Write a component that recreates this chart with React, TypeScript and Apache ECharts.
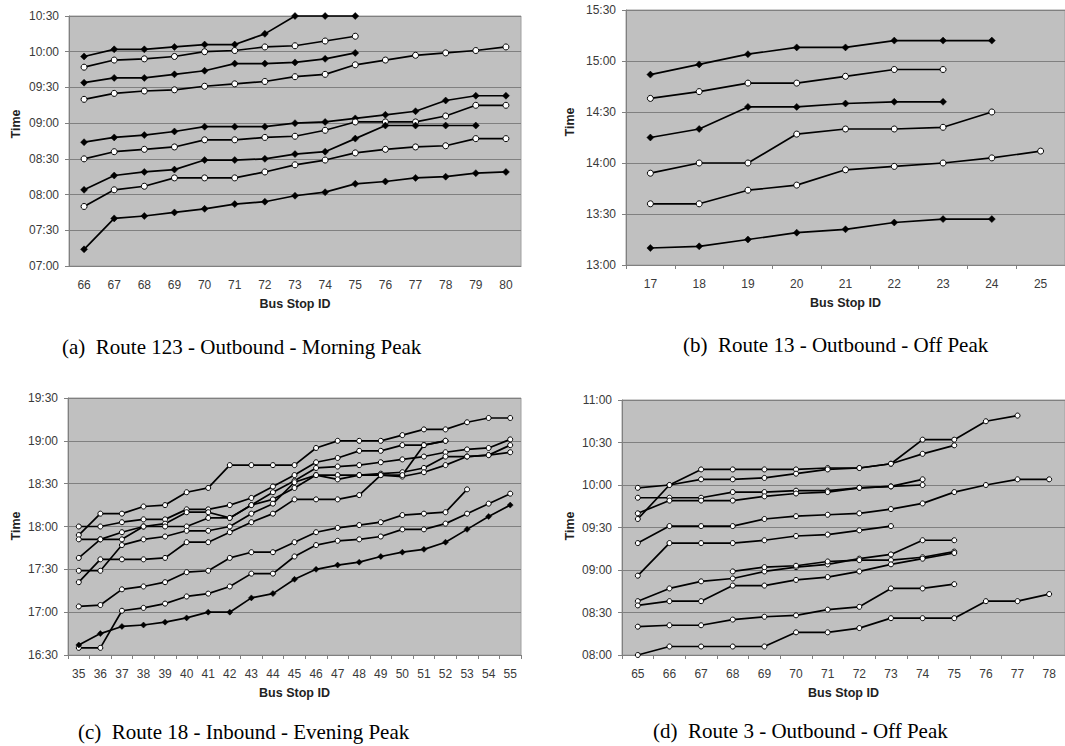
import React, { useEffect, useRef } from "react";
import * as echarts from "echarts";

// ---------- Panel (a): Route 123 - Outbound - Morning Peak ----------
const catsA = ["66", "67", "68", "69", "70", "71", "72", "73", "74", "75", "76", "77", "78", "79", "80"];
const a1 = ["09:56", "10:02", "10:02", "10:04", "10:06", "10:06", "10:15", "10:30", "10:30", "10:30"];
const a2 = ["09:47", "09:53", "09:54", "09:56", "10:00", "10:01", "10:04", "10:05", "10:09", "10:13"];
const a3 = ["09:34", "09:38", "09:38", "09:41", "09:44", "09:50", "09:50", "09:51", "09:54", "09:59"];
const a4 = ["09:20", "09:25", "09:27", "09:28", "09:31", "09:33", "09:35", "09:39", "09:41", "09:49", "09:53", "09:57", "09:59", "10:01", "10:04"];
const a5 = ["08:44", "08:48", "08:50", "08:53", "08:57", "08:57", "08:57", "09:00", "09:01", "09:04", "09:07", "09:10", "09:19", "09:23", "09:23"];
const a6 = ["08:30", "08:36", "08:38", "08:40", "08:46", "08:46", "08:48", "08:49", "08:54", "09:01", "09:01", "09:01", "09:06", "09:15", "09:15"];
const a7 = ["08:04", "08:16", "08:19", "08:21", "08:29", "08:29", "08:30", "08:34", "08:36", "08:47", "08:58", "08:58", "08:58", "08:58"];
const a8 = ["07:50", "08:04", "08:07", "08:14", "08:14", "08:14", "08:19", "08:25", "08:29", "08:35", "08:38", "08:40", "08:41", "08:47", "08:47"];
const a9 = ["07:14", "07:40", "07:42", "07:45", "07:48", "07:52", "07:54", "07:59", "08:02", "08:09", "08:11", "08:14", "08:15", "08:18", "08:19"];

// ---------- Panel (b): Route 13 - Outbound - Off Peak ----------
const catsB = ["17", "18", "19", "20", "21", "22", "23", "24", "25"];
const b1 = ["14:52", "14:58", "15:04", "15:08", "15:08", "15:12", "15:12", "15:12"];
const b2 = ["14:38", "14:42", "14:47", "14:47", "14:51", "14:55", "14:55"];
const b3 = ["14:15", "14:20", "14:33", "14:33", "14:35", "14:36", "14:36"];
const b4 = ["13:54", "14:00", "14:00", "14:17", "14:20", "14:20", "14:21", "14:30"];
const b5 = ["13:36", "13:36", "13:44", "13:47", "13:56", "13:58", "14:00", "14:03", "14:07"];
const b6 = ["13:10", "13:11", "13:15", "13:19", "13:21", "13:25", "13:27", "13:27"];

// ---------- Panel (c): Route 18 - Inbound - Evening Peak ----------
const catsC = ["35", "36", "37", "38", "39", "40", "41", "42", "43", "44", "45", "46", "47", "48", "49", "50", "51", "52", "53", "54", "55"];
const c1 = ["17:54", "18:09", "18:09", "18:14", "18:15", "18:24", "18:27", "18:43", "18:43", "18:43", "18:43", "18:55", "19:00", "19:00", "19:00", "19:04", "19:08", "19:08", "19:13", "19:16", "19:16"];
const c2 = ["18:00", "18:00", "18:03", "18:05", "18:05", "18:12", "18:12", "18:15", "18:20", "18:28", "18:36", "18:45", "18:48", "18:53", "18:53", "18:57", "18:57", "19:00"];
const c3 = ["17:51", "17:51", "17:51", "18:00", "18:02", "18:10", "18:10", "18:06", "18:15", "18:24", "18:32", "18:41", "18:42", "18:43", "18:45", "18:47", "18:49", "18:52", "18:54", "18:55", "19:01"];
const c4 = ["17:38", "17:51", "17:56", "18:00", "18:00", "18:00", "18:06", "18:06", "18:15", "18:19", "18:27", "18:36", "18:36", "18:36", "18:37", "18:38", "18:41", "18:49", "18:49", "18:50", "18:57"];
const c5 = ["17:29", "17:29", "17:47", "17:51", "17:53", "17:57", "17:57", "18:00", "18:09", "18:16", "18:31", "18:36", "18:33", "18:36", "18:36", "18:35", "18:38", "18:43", "18:49", "18:50", "18:52"];
const c6 = ["17:21", "17:37", "17:37", "17:37", "17:38", "17:49", "17:49", "17:56", "18:03", "18:09", "18:19", "18:19", "18:19", "18:22", "18:36", "18:36", "18:57", "19:00"];
const c7 = ["17:04", "17:05", "17:16", "17:18", "17:21", "17:28", "17:29", "17:38", "17:42", "17:42", "17:49", "17:56", "17:59", "18:01", "18:03", "18:08", "18:09", "18:10", "18:26"];
const c8 = ["16:35", "16:35", "17:01", "17:03", "17:06", "17:11", "17:13", "17:18", "17:27", "17:27", "17:39", "17:47", "17:50", "17:51", "17:53", "17:58", "17:58", "18:02", "18:09", "18:16", "18:23"];
const c9 = ["16:37", "16:45", "16:50", "16:51", "16:53", "16:56", "17:00", "17:00", "17:10", "17:13", "17:23", "17:30", "17:33", "17:35", "17:39", "17:42", "17:44", "17:49", "17:58", "18:07", "18:15"];

// ---------- Panel (d): Route 3 - Outbound - Off Peak ----------
const catsD = ["65", "66", "67", "68", "69", "70", "71", "72", "73", "74", "75", "76", "77", "78"];
const d1 = ["09:36", "10:00", "10:11", "10:11", "10:11", "10:11", "10:12", "10:12", "10:15", "10:32", "10:32", "10:45", "10:49"];
const d2 = ["09:58", "10:00", "10:04", "10:04", "10:05", "10:08", "10:11", "10:12", "10:15", "10:22", "10:28"];
const d3 = ["09:51", "09:51", "09:51", "09:55", "09:55", "09:56", "09:56", "09:58", "09:59", "10:04"];
const d4 = ["09:40", "09:49", "09:49", "09:49", "09:52", "09:54", "09:55", "09:58", "09:59", "10:00"];
const d5 = ["09:19", "09:31", "09:31", "09:31", "09:36", "09:38", "09:39", "09:40", "09:43", "09:47", "09:55", "10:00", "10:04", "10:04"];
const d6 = ["08:56", "09:19", "09:19", "09:19", "09:21", "09:24", "09:25", "09:28", "09:31"];
const d7 = ["08:38", "08:47", "08:52", "08:54", "08:59", "09:02", "09:04", "09:08", "09:11", "09:21", "09:21"];
const d8 = [null, null, null, "08:59", "09:02", "09:03", "09:06", "09:07", "09:07", "09:09", "09:13"];
const d9 = ["08:35", "08:38", "08:38", "08:49", "08:49", "08:53", "08:55", "08:59", "09:04", "09:08", "09:12"];
const d10 = ["08:20", "08:21", "08:21", "08:25", "08:27", "08:28", "08:32", "08:34", "08:47", "08:47", "08:50"];
const d11 = ["08:00", "08:06", "08:06", "08:06", "08:06", "08:16", "08:16", "08:19", "08:26", "08:26", "08:26", "08:38", "08:38", "08:43"];

const captions = [
  "(a)  Route 123 - Outbound - Morning Peak",
  "(b)  Route 13 - Outbound - Off Peak",
  "(c)  Route 18 - Inbound - Evening Peak",
  "(d)  Route 3 - Outbound - Off Peak",
];

type Run = { data: (string | null)[]; filled: boolean };

const runsA: Run[] = [
  { data: a1, filled: true }, { data: a2, filled: false }, { data: a3, filled: true },
  { data: a4, filled: false }, { data: a5, filled: true }, { data: a6, filled: false },
  { data: a7, filled: true }, { data: a8, filled: false }, { data: a9, filled: true },
];
const runsB: Run[] = [
  { data: b1, filled: true }, { data: b2, filled: false }, { data: b3, filled: true },
  { data: b4, filled: false }, { data: b5, filled: false }, { data: b6, filled: true },
];
const runsC: Run[] = [
  { data: c1, filled: false }, { data: c2, filled: false }, { data: c3, filled: false },
  { data: c4, filled: false }, { data: c5, filled: false }, { data: c6, filled: false },
  { data: c7, filled: false }, { data: c8, filled: false }, { data: c9, filled: true },
];
const runsD: Run[] = [d1, d2, d3, d4, d5, d6, d7, d8, d9, d10, d11].map((d) => ({ data: d, filled: false }));

const toMin = (s: string | null) => {
  if (!s) return null;
  const [h, m] = s.split(":").map(Number);
  return h * 60 + m;
};
const fmt = (v: number) => {
  const h = Math.floor(v / 60);
  const m = Math.round(v % 60);
  return `${String(h).padStart(2, "0")}:${String(m).padStart(2, "0")}`;
};

const SANS = "'Liberation Sans', Arial, Helvetica, sans-serif";
const SERIF = "'Liberation Serif', 'Times New Roman', serif";

function makeSeries(runs: Run[], idx: number, size: number) {
  return runs.map((r) => ({
    type: "line",
    xAxisIndex: idx,
    yAxisIndex: idx,
    data: r.data.map(toMin),
    symbol: r.filled ? "diamond" : "circle",
    symbolSize: r.filled ? size + 1 : size,
    showSymbol: true,
    clip: false,
    silent: true,
    lineStyle: { color: "#000", width: 1.7 },
    itemStyle: r.filled
      ? { color: "#000", borderColor: "#000", borderWidth: 0.5 }
      : { color: "#fff", borderColor: "#000", borderWidth: 1 },
    emphasis: { disabled: true },
    z: 3,
  }));
}

function xAxis(idx: number, cats: string[], ticks: boolean) {
  return {
    type: "category",
    gridIndex: idx,
    data: cats,
    boundaryGap: true,
    axisLine: { show: true, lineStyle: { color: "#808080", width: 1 } },
    axisTick: { show: ticks, length: 4, interval: 0, lineStyle: { color: "#808080" } },
    axisLabel: { interval: 0, margin: 13, fontSize: 12, color: "#3a3a3a", fontFamily: SANS },
    name: "Bus Stop ID",
    nameLocation: "middle",
    nameGap: 31,
    nameTextStyle: { fontSize: 12.5, fontWeight: "bold", color: "#222", fontFamily: SANS },
    splitLine: { show: false },
  };
}

function yAxis(idx: number, min: number, max: number) {
  return {
    type: "value",
    gridIndex: idx,
    min,
    max,
    interval: 30,
    axisLine: { show: true, lineStyle: { color: "#808080", width: 1 } },
    axisTick: { show: true, length: 4, lineStyle: { color: "#808080" } },
    axisLabel: { formatter: fmt, margin: 10, fontSize: 12, color: "#3a3a3a", fontFamily: SANS },
    splitLine: { show: true, lineStyle: { color: "#808080", width: 1 } },
  };
}

const gridStyle = { show: true, backgroundColor: "#c0c0c0", borderColor: "#a0a0a0", borderWidth: 1, containLabel: false };

export default function App() {
  const ref = useRef<HTMLDivElement>(null);

  useEffect(() => {
    document.body.style.margin = "0";
    if (!ref.current) return;
    const chart = echarts.init(ref.current, undefined, { renderer: "svg" });
    const timeLabel = (x: number, y: number) => ({
      type: "text",
      x,
      y,
      rotation: Math.PI / 2,
      style: { text: "Time", fontSize: 12.5, fontWeight: "bold", fill: "#222", fontFamily: SANS, align: "center", verticalAlign: "middle" },
      silent: true,
    });
    const caption = (text: string, x: number, y: number) => ({
      type: "text",
      x,
      y,
      style: { text, fontSize: 21, fill: "#000", fontFamily: SERIF, align: "left", verticalAlign: "middle" },
      silent: true,
    });
    chart.setOption({
      animation: false,
      backgroundColor: "#fff",
      grid: [
        { ...gridStyle, left: 69, top: 16, width: 452, height: 250 },
        { ...gridStyle, left: 626, top: 10, width: 450, height: 255 },
        { ...gridStyle, left: 68, top: 398, width: 453, height: 257 },
        { ...gridStyle, left: 622, top: 400, width: 452, height: 255 },
      ],
      xAxis: [xAxis(0, catsA, false), xAxis(1, catsB, true), xAxis(2, catsC, true), xAxis(3, catsD, true)],
      yAxis: [yAxis(0, 420, 630), yAxis(1, 780, 930), yAxis(2, 990, 1170), yAxis(3, 480, 660)],
      series: [
        ...makeSeries(runsA, 0, 6),
        ...makeSeries(runsB, 1, 6),
        ...makeSeries(runsC, 2, 5),
        ...makeSeries(runsD, 3, 5),
      ],
      graphic: [
        timeLabel(16, 124),
        timeLabel(570, 122),
        timeLabel(16, 526),
        timeLabel(570, 526),
        caption(captions[0], 62, 347),
        caption(captions[1], 683, 345),
        caption(captions[2], 78, 732),
        caption(captions[3], 653, 731),
      ],
    });
    return () => chart.dispose();
  }, []);

  return <div ref={ref} style={{ width: 1065, height: 746, overflow: "hidden" }} />;
}
